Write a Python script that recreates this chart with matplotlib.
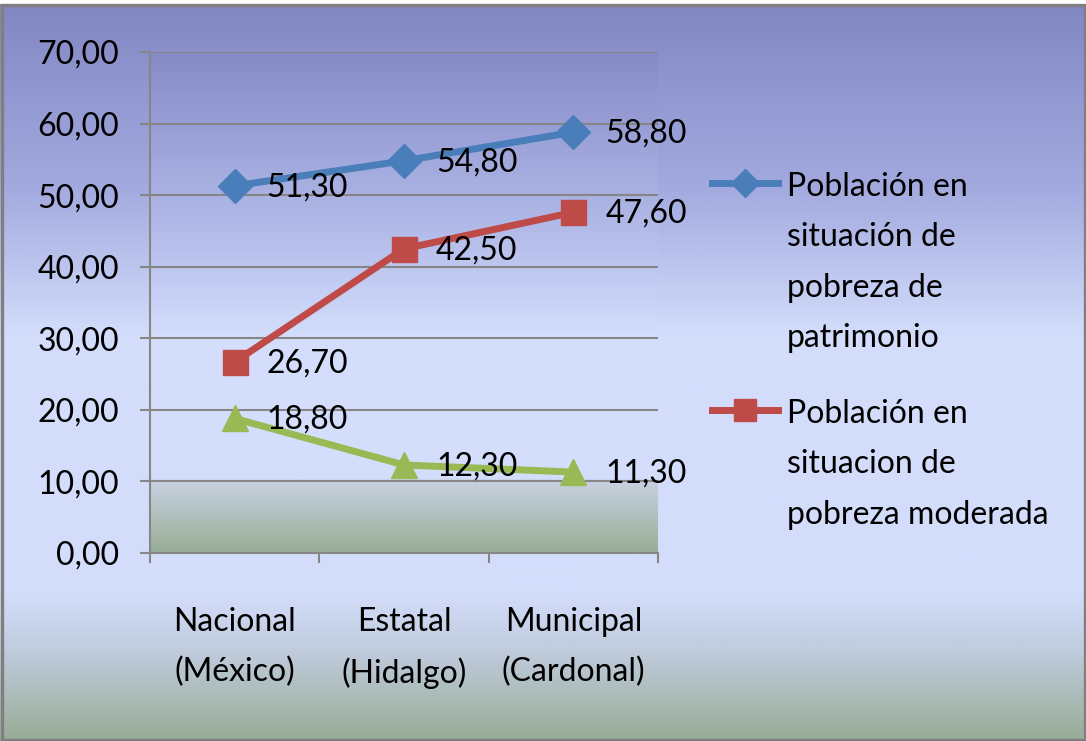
import numpy as np
import matplotlib
matplotlib.use("Agg")
import matplotlib.pyplot as plt
from matplotlib.colors import LinearSegmentedColormap
from matplotlib.lines import Line2D
from matplotlib.patches import Rectangle

plt.rcParams["font.family"] = ["Lato", "DejaVu Sans"]
plt.rcParams["font.size"] = 23

# datos
categorias = ["Nacional\n(México)", "Estatal\n(Hidalgo)", "Municipal\n(Cardonal)"]
patrimonio = [51.30, 54.80, 58.80]
moderada = [26.70, 42.50, 47.60]
extrema = [18.80, 12.30, 11.30]
etiquetas = ["Población en\nsituación de\npobreza de\npatrimonio",
             "Población en\nsituacion de\npobreza moderada"]
yticks = [0, 10, 20, 30, 40, 50, 60, 70]

azul = "#4A7EBB"
rojo = "#BE4B48"
verde = "#98B954"
gris = "#868686"

W, H = 1086, 741
fig = plt.figure(figsize=(W / 100, H / 100), dpi=100)
fig.patch.set_facecolor("white")

# fondo degradado de la figura
bg = fig.add_axes([0, 0, 1, (H - 4) / H])
bg.set_axis_off()
cmap_fig = LinearSegmentedColormap.from_list("fondo", [
    (0.0, "#97AC96"), (0.12, "#C0CBDD"), (0.20, "#D3DDFB"),
    (0.55, "#D3DDFB"), (0.75, "#A3AADF"), (1.0, "#8287C3")])
grad = np.linspace(0, 1, 512).reshape(-1, 1)
bg.imshow(grad, cmap=cmap_fig, aspect="auto", origin="lower", extent=[0, 1, 0, 1])
bg.set_xlim(0, 1)
bg.set_ylim(0, 1)
fig.add_artist(Rectangle((1.5 / W, 1.5 / H), (W - 3) / W, (H - 6.5) / H,
                         transform=fig.transFigure, fill=False,
                         edgecolor="#7F7F7F", linewidth=2.4))

# area de trazado
x0, x1, ytop, ybot = 150, 658, 52, 553
ax = fig.add_axes([x0 / W, (H - ybot) / H, (x1 - x0) / W, (ybot - ytop) / H])
ax.set_facecolor("none")
cmap_ax = LinearSegmentedColormap.from_list("area", [
    (0.0, "#98AD96"), (10 / 70, "#C8D2E2"), (10.3 / 70, "#D4DEFC"),
    (30 / 70, "#D4DEFC"), (45 / 70, "#B3BBE9"), (1.0, "#868BC7")])
ax.imshow(grad, cmap=cmap_ax, aspect="auto", origin="lower",
          extent=[-0.5, 2.5, 0, 70], zorder=0)

x = np.arange(len(categorias))
ax.plot(x, patrimonio, color=azul, lw=5, marker="D", ms=17, zorder=3)
ax.plot(x, moderada, color=rojo, lw=5, marker="s", ms=18, zorder=3)
ax.plot(x, extrema, color=verde, lw=5, marker="^", ms=19, zorder=3)

for serie in (patrimonio, moderada, extrema):
    for xi, v in zip(x, serie):
        ax.annotate(f"{v:.2f}".replace(".", ","), (xi, v), xytext=(23, -1),
                    textcoords="offset points", ha="left", va="center",
                    zorder=4, annotation_clip=False)

ax.set_xlim(-0.5, 2.5)
ax.set_ylim(0, 70)
ax.set_yticks(yticks)
ax.set_yticklabels([f"{t:.2f}".replace(".", ",") for t in yticks])
ax.yaxis.grid(True, color=gris, lw=1.5, zorder=1)
ax.set_axisbelow(False)
ax.set_xticks([-0.5, 0.5, 1.5, 2.5])
ax.set_xticklabels([])
ax.set_xticks(x, minor=True)
ax.set_xticklabels(categorias, minor=True, linespacing=1.78)
ax.tick_params(axis="x", which="major", length=7, width=1.5, color=gris, direction="out")
ax.tick_params(axis="x", which="minor", length=0, pad=39)
ax.tick_params(axis="y", length=7, width=1.5, color=gris, direction="out", pad=15)
for s in ("top", "right"):
    ax.spines[s].set_visible(False)
for s in ("left", "bottom"):
    ax.spines[s].set_color(gris)
    ax.spines[s].set_linewidth(1.5)

# leyenda
leg = [(azul, "D", 17, etiquetas[0], 183), (rojo, "s", 18, etiquetas[1], 410)]
for col, mk, ms, txt, yy in leg:
    fig.add_artist(Line2D([712 / W, 778 / W], [1 - yy / H, 1 - yy / H], color=col,
                          lw=5, transform=fig.transFigure))
    fig.add_artist(Line2D([745 / W], [1 - yy / H], color=col, marker=mk, ms=ms * 0.85,
                          transform=fig.transFigure))
    fig.text(787 / W, 1 - (yy - 11) / H, txt, ha="left", va="top",
             linespacing=1.85)

fig.savefig("out.png", dpi=100)
